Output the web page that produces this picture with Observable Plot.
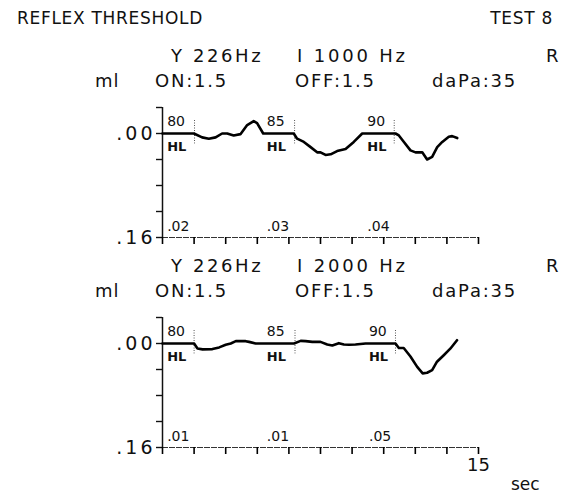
<!DOCTYPE html>
<html>
<head>
<meta charset="utf-8">
<script src="https://cdn.jsdelivr.net/npm/d3@7"></script>
<script src="https://cdn.jsdelivr.net/npm/@observablehq/plot@0.6"></script>
<style>
  body { margin: 0; background: white; }
  #page { position: relative; width: 570px; height: 493px; overflow: hidden; background: white;
          font-family: "DejaVu Sans", sans-serif; color: #111; }
  .t { position: absolute; white-space: pre; line-height: 1; font-size: 18px; }
  .panel { position: absolute; left: 0; }
  .panel g[aria-label="y-axis tick label"] text { letter-spacing: 3px; }
</style>
</head>
<body>
<div id="page"></div>
<script>
// ---- data ----
const xTicks = [0, 1.5, 3, 4.5, 6, 7.5, 9, 10.5, 12, 13.5, 15];
const yTicks = [-0.04, 0, 0.04, 0.08, 0.12, 0.16];
const yTickLabels = ["", ".00", "", "", "", ".16"];
const levels = ["80", "85", "90"];

// panel 1: Y 226Hz, I 1000 Hz
const time1 = [0, 1.49, 1.88, 2.20, 2.52, 2.83, 3.07, 3.38, 3.70, 4.02, 4.33, 4.49, 4.78, 6.23, 6.39, 6.71, 7.03, 7.34, 7.50, 7.74,
               7.98, 8.29, 8.69, 9.08, 9.48, 11.06, 11.22, 11.46, 11.77, 12.01, 12.33, 12.56, 12.80, 13.04, 13.28, 13.59, 13.75, 13.99];
const comp1 = [0, 0, 0.006, 0.008, 0.006, 0, 0, 0.003, 0.001, -0.013, -0.019, -0.016, 0, 0, 0.008, 0.013, 0.021, 0.029, 0.029, 0.033,
               0.032, 0.027, 0.024, 0.013, 0, 0, 0.003, 0.013, 0.026, 0.029, 0.029, 0.040, 0.036, 0.021, 0.013, 0.005, 0.004, 0.007];
const labelTime1 = [0.22, 4.95, 9.72];
const markTime1 = [1.52, 6.27, 11.0];
const change1 = [".02", ".03", ".04"];

// panel 2: Y 226Hz, I 2000 Hz
const time2 = [0, 1.50, 1.66, 1.90, 2.37, 2.69, 3.00, 3.24, 3.48, 3.95, 4.11, 4.42, 6.24, 6.56, 6.79, 7.11, 7.50, 7.82, 8.06, 8.37,
               8.61, 8.85, 9.16, 9.64, 11.06, 11.22, 11.45, 11.77, 12.09, 12.35, 12.56, 12.80, 13.03, 13.35, 13.66, 13.98];
const comp2 = [0, 0, 0.0076, 0.009, 0.0086, 0.006, 0.002, 0, -0.0036, -0.0036, -0.0025, 0, 0, -0.004, -0.0036, -0.0025, -0.0025, 0.0015, 0.003, -0.0005,
               0.0015, 0.002, 0.0015, 0, 0, 0.007, 0.007, 0.020, 0.036, 0.046, 0.045, 0.041, 0.028, 0.018, 0.008, -0.005];
const labelTime2 = [0.22, 4.95, 9.8];
const markTime2 = [1.5, 6.29, 11.06];
const change2 = [".01", ".01", ".05"];

const headerA1 = ["Y 226Hz", "I 1000 Hz", "R"];
const headerA2 = ["Y 226Hz", "I 2000 Hz", "R"];
const headerB = ["ml", "ON:1.5", "OFF:1.5", "daPa:35"];

// ---- layout ----
const page = document.getElementById("page");
function txt(s, left, baseline, opts = {}) {
  const fs = opts.fs || 18;
  const d = document.createElement("div");
  d.className = "t";
  d.textContent = s;
  d.style.fontSize = fs + "px";
  d.style.top = (baseline - 0.846 * fs) + "px";
  if (opts.right != null) d.style.right = (570 - opts.right) + "px";
  else d.style.left = left + "px";
  if (opts.ls) d.style.letterSpacing = opts.ls + "px";
  page.appendChild(d);
}

txt("REFLEX THRESHOLD", 17, 24, {fs: 17, ls: 0.7});
txt("TEST 8", 0, 24, {fs: 17, ls: 0.7, right: 553});

function headers(A, off) {
  txt(A[0], 171, 62 + off, {ls: 2.6});
  txt(A[1], 297, 62 + off, {ls: 2.8});
  txt(A[2], 546, 62 + off);
  txt(headerB[0], 95, 87 + off, {ls: 1});
  txt(headerB[1], 155, 87 + off, {ls: 1.8});
  txt(headerB[2], 295, 87 + off, {ls: 1.8});
  txt(headerB[3], 432, 87 + off, {ls: 1.8});
}
headers(headerA1, 0);
headers(headerA2, 210);

function panel(times, values, labelTimes, markTimes, changes, last) {
  const data = times.map((t, i) => ({t, v: values[i]}));
  const lab = levels.map((l, i) => ({t: labelTimes[i], level: l, change: changes[i]}));
  return Plot.plot({
    width: 570,
    height: last ? 175 : 160,
    marginLeft: 162, marginRight: 92, marginTop: 12, marginBottom: last ? 33 : 18,
    style: {fontFamily: "DejaVu Sans, sans-serif", fontSize: "13px", background: "white", color: "#111", overflow: "visible"},
    x: {domain: [0, 15]},
    y: {domain: [-0.04, 0.16], reverse: true},
    marks: [
      Plot.ruleX([0], {y1: -0.04, y2: 0.16, stroke: "#111", strokeWidth: 1.5}),
      Plot.ruleY([0.16], {stroke: "#333", strokeWidth: 1.2, strokeDasharray: "6,1"}),
      Plot.axisY({ticks: yTicks, tickSize: 6, tickPadding: 1, stroke: "#111", strokeWidth: 1.4, label: null,
                  tickFormat: d => yTickLabels[yTicks.indexOf(d)], fontSize: 19}),
      Plot.axisX({ticks: xTicks, tickSize: 7, tickPadding: 4, stroke: "#000", strokeWidth: 1.6, label: null, fontSize: 18,
                  tickFormat: d => (last && d === 15) ? "15" : ""}),
      Plot.ruleX(markTimes, {y1: -0.02, y2: 0.016, stroke: "#555", strokeWidth: 1, strokeDasharray: "1,1.5"}),
      Plot.line(data, {x: "t", y: "v", stroke: "#000", strokeWidth: 2.6, strokeLinejoin: "round"}),
      Plot.text(lab, {x: "t", y: () => -0.019, text: "level", textAnchor: "start", lineAnchor: "middle", fontSize: 14}),
      Plot.text(lab, {x: "t", y: () => 0.021, text: () => "HL", textAnchor: "start", lineAnchor: "middle", fontSize: 13, fontWeight: 600}),
      Plot.text(lab, {x: "t", y: () => 0.1435, text: "change", textAnchor: "start", lineAnchor: "middle", fontSize: 14})
    ]
  });
}

const p1 = panel(time1, comp1, labelTime1, markTime1, change1, false);
p1.classList.add("panel"); p1.style.top = "95px";
page.appendChild(p1);
const p2 = panel(time2, comp2, labelTime2, markTime2, change2, true);
p2.classList.add("panel"); p2.style.top = "305px";
page.appendChild(p2);

txt("sec", 511, 490, {fs: 17});
</script>
</body>
</html>
